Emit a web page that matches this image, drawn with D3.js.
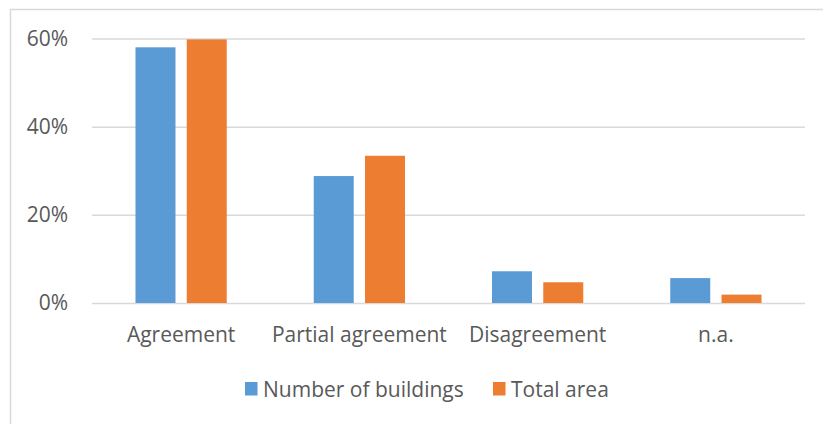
<!DOCTYPE html>
<html lang="en">
<head>
<meta charset="utf-8">
<script src="https://cdn.jsdelivr.net/npm/d3@7"></script>
<style type="text/css">
body {
	margin: 0;
	background: #fff;
	font-family: "Open Sans", sans-serif;
}
</style>
</head>
<body>
<script type="text/javascript">

// chart data
var categories = ["Agreement", "Partial agreement", "Disagreement", "n.a."];
var seriesNames = ["Number of buildings", "Total area"];
var buildings = [0.580, 0.288, 0.072, 0.0565];
var totalArea = [0.598, 0.334, 0.047, 0.019];
var yTicks = [0, 0.2, 0.4, 0.6];

var colors = ["#5b9bd5", "#ed7d31"];
var width = 823, height = 424;

var svg = d3.select("body").append("svg")
	.attr("width", width)
	.attr("height", height);

// chart frame
svg.append("rect")
	.attr("x", 10.5).attr("y", 9.5)
	.attr("width", 830).attr("height", 430)
	.style("fill", "none")
	.style("stroke", "#d9d9d9")
	.style("stroke-width", 1.5);

var x0 = d3.scaleBand()
	.domain(categories)
	.range([92, 805])
	.paddingInner(0.488)
	.paddingOuter(0.244);

var x1 = d3.scaleBand()
	.domain(seriesNames)
	.range([0, x0.bandwidth()])
	.paddingInner(0.22);

var y = d3.scaleLinear()
	.domain([0, 0.6])
	.range([303, 38.5]);

// gridlines + y labels
var yAxis = d3.axisLeft(y)
	.tickValues(yTicks)
	.tickFormat(d3.format(".0%"))
	.tickSize(-713)
	.tickPadding(24);

var gy = svg.append("g")
	.attr("transform", "translate(92,0)")
	.call(yAxis);
gy.select(".domain").remove();
gy.selectAll(".tick line").style("stroke", "#d9d9d9").style("stroke-width", 1.5);
gy.selectAll(".tick text")
	.style("font-family", "'Open Sans', sans-serif")
	.style("font-size", "21px")
	.style("fill", "#595959");

// bars
var rows = categories.map(function(c, i) {
	return { cat: c, vals: [buildings[i], totalArea[i]] };
});

var groups = svg.selectAll("g.cat")
	.data(rows)
	.enter().append("g")
	.attr("class", "cat")
	.attr("transform", function(d) { return "translate(" + x0(d.cat) + ",0)"; });

groups.selectAll("rect")
	.data(function(d) { return d.vals.map(function(v, k) { return { s: seriesNames[k], v: v, k: k }; }); })
	.enter().append("rect")
	.attr("x", function(d) { return x1(d.s); })
	.attr("width", x1.bandwidth())
	.attr("y", function(d) { return y(d.v); })
	.attr("height", function(d) { return y(0) - y(d.v); })
	.style("fill", function(d) { return colors[d.k]; });

// category labels
var xAxis = d3.axisBottom(x0).tickSize(0).tickPadding(24);
var gx = svg.append("g")
	.attr("transform", "translate(0," + y(0) + ")")
	.call(xAxis);
gx.select(".domain").remove();
gx.selectAll(".tick text")
	.style("font-family", "'Open Sans', sans-serif")
	.style("font-size", "21px")
	.style("fill", "#595959");

// legend
var legendX = [245, 493];
var legend = svg.selectAll("g.legend")
	.data(seriesNames)
	.enter().append("g")
	.attr("class", "legend")
	.attr("transform", function(d, i) { return "translate(" + legendX[i] + ",382)"; });

legend.append("rect")
	.attr("width", 12.5)
	.attr("height", 13.5)
	.style("fill", function(d, i) { return colors[i]; });

legend.append("text")
	.attr("x", 18)
	.attr("y", 7)
	.attr("dy", "0.36em")
	.style("font-size", "21px")
	.style("fill", "#595959")
	.text(function(d) { return d; });

</script>
</body>
</html>
